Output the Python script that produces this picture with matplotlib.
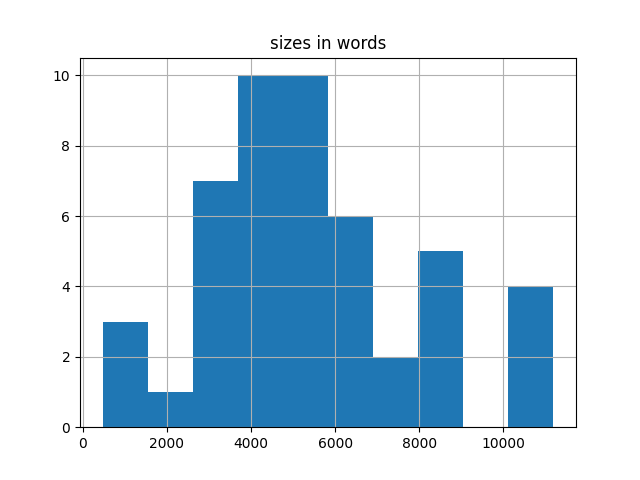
import numpy as np
import pandas as pd
import matplotlib
matplotlib.use("Agg")
import matplotlib.pyplot as plt

# word counts per document, grouped roughly by the bin they land in
sizes = [
    470, 980, 1320,
    2100,
    2700, 2850, 3000, 3150, 3300, 3450, 3600,
    3750, 3900, 4000, 4100, 4200, 4300, 4400, 4500, 4600, 4700,
    4800, 4900, 5000, 5100, 5200, 5300, 5400, 5500, 5600, 5750,
    5900, 6100, 6300, 6500, 6650, 6800,
    7200, 7700,
    8050, 8300, 8500, 8700, 8900,
    10300, 10600, 10900, 11190,
]

df = pd.DataFrame({"sizes in words": sizes})
fig, ax = plt.subplots(figsize=(6.4, 4.8), dpi=100)
df.hist(column="sizes in words", ax=ax, bins=10)
fig.savefig("out.png")
